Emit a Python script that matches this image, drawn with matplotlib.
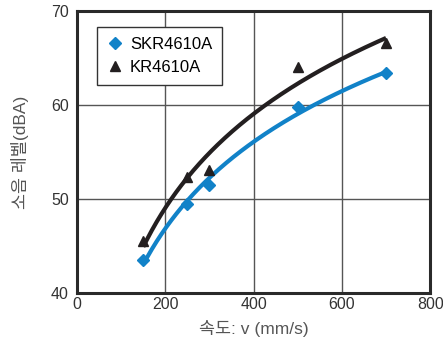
import matplotlib
matplotlib.use("Agg")
import matplotlib.pyplot as plt
import numpy as np

# Data -------------------------------------------------------------
speed = [150, 250, 300, 500, 700]            # v (mm/s)
skr_noise = [43.5, 49.5, 51.5, 59.8, 63.4]   # SKR4610A (dBA)
kr_noise = [45.5, 52.3, 53.1, 64.0, 66.6]    # KR4610A (dBA)

x_ticks = [0, 200, 400, 600, 800]
y_ticks = [40, 50, 60, 70]

blue = "#1182c8"
black = "#231f20"

plt.rcParams['font.family'] = ['Liberation Sans', 'Noto Sans CJK KR', 'DejaVu Sans']

fig = plt.figure(figsize=(4.43, 3.47), dpi=100)
ax = fig.add_axes([0.174, 0.156, 0.797, 0.812])


# Logarithmic trend line through the measured points
def log_trend(xs, ys):
    k, b = np.polyfit(np.log(xs), ys, 1)
    xx = np.linspace(min(xs), max(xs), 200)
    return xx, k * np.log(xx) + b


xx, yy = log_trend(speed, kr_noise)
ax.plot(xx, yy, color=black, lw=3.0, solid_capstyle="butt", zorder=3)
xx, yy = log_trend(speed, skr_noise)
ax.plot(xx, yy, color=blue, lw=3.0, solid_capstyle="butt", zorder=3)

ax.plot(speed, skr_noise, linestyle="none", marker="D", ms=6.5, color=blue,
        label="SKR4610A", zorder=4)
ax.plot(speed, kr_noise, linestyle="none", marker="^", ms=7, color=black,
        label="KR4610A", zorder=4)

ax.set_xlim(0, 800)
ax.set_ylim(40, 70)
ax.set_xticks(x_ticks)
ax.set_yticks(y_ticks)
ax.tick_params(length=0, labelsize=11.5, labelcolor="#333333")
ax.tick_params(axis="y", pad=6)
ax.tick_params(axis="x", pad=3)
ax.grid(True, color="#555555", lw=1.0)
ax.set_axisbelow(True)
for sp in ax.spines.values():
    sp.set_linewidth(2.2)
    sp.set_color("#2a2a2a")

ax.set_xlabel("속도: v (mm/s)", fontsize=12.5, color="#555555", labelpad=6)
ax.set_ylabel("소음 레벨(dBA)", fontsize=12.5, color="#555555", labelpad=16)

leg = ax.legend(loc="upper left", bbox_to_anchor=(0.055, 0.945), fontsize=12,
                frameon=True, fancybox=False, handlelength=1.0,
                handletextpad=0.4, borderpad=0.6, labelspacing=0.5,
                borderaxespad=0)
leg.get_frame().set_edgecolor("#333333")
leg.get_frame().set_linewidth(1.0)
leg.get_frame().set_alpha(1)

fig.savefig("out.png", dpi=100)
